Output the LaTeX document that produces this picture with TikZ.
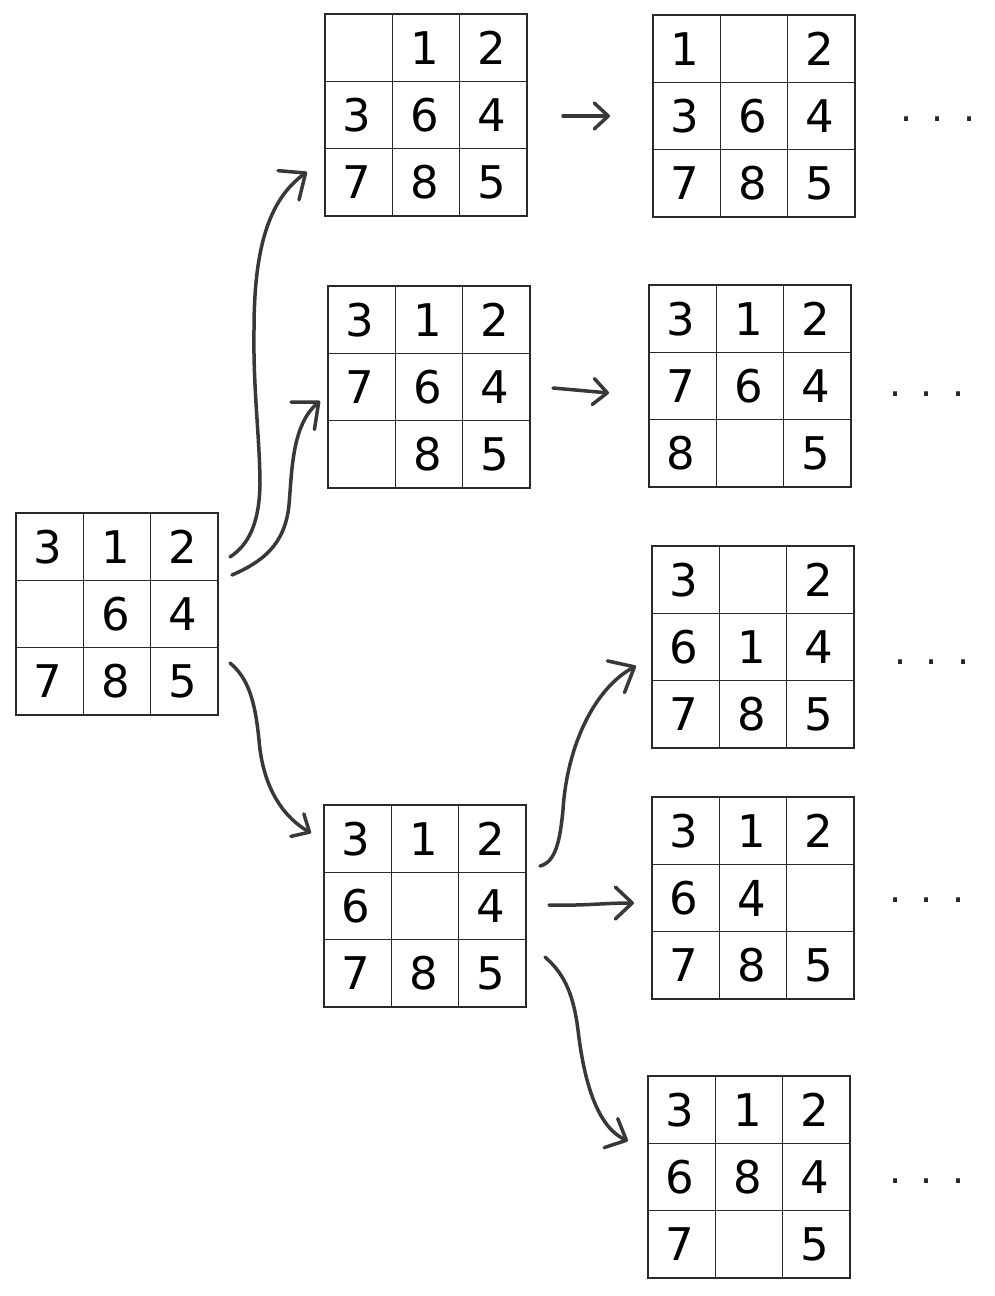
\documentclass[tikz,border=0pt]{standalone}
\usepackage{fontspec}
\setmainfont{DejaVu Sans}
\usetikzlibrary{arrows.meta}
\definecolor{gridline}{HTML}{2A2A2A}
\definecolor{arrowc}{HTML}{383838}
\tikzset{
  gridbox/.style={draw=gridline, line width=1.6pt, minimum size=202pt, inner sep=0pt,
    outer sep=0pt, anchor=north west},
  gridrule/.style={draw=gridline, line width=1.6pt},
  digit/.style={inner sep=0pt, font=\fontsize{45}{54}\selectfont, text=black},
  edgearrow/.style={draw=arrowc, line width=3.5pt, line cap=round, line join=round},
  bigtip/.style={-{Straight Barb[length=21pt,width=36pt,round]}},
  smalltip/.style={-{Straight Barb[length=14pt,width=26pt,round]}},
  midtip/.style={-{Straight Barb[length=17pt,width=32pt,round]}},
  dotsnode/.style={font=\fontsize{38}{40}\selectfont, text=black!85, inner sep=0pt}
}
\newcommand\puzzlegrid[4]{%
  \node[gridbox] (#1) at (#2,#3) {};
  \foreach \k in {1,2} {
    \draw[gridrule] (#2+\k*67.333,#3) -- (#2+\k*67.333,#3+202);
    \draw[gridrule] (#2,#3+\k*67.333) -- (#2+202,#3+\k*67.333);
  }
  \foreach \d [count=\i from 0] in {#4} {
    \pgfmathtruncatemacro\rr{int(\i/3)}%
    \pgfmathtruncatemacro\cc{\i-3*\rr}%
    \node[digit] (#1-\i) at (#2+33.667+\cc*67.333-1.5, #3+33.667+\rr*67.333) {\d};
  }
}
\begin{document}
\begin{tikzpicture}[x=1pt,y=-1pt]
\useasboundingbox (0,0) rectangle (995,1296);

% grids
\puzzlegrid{S}{16}{513}{3,1,2,,6,4,7,8,5}
\puzzlegrid{A}{325}{14}{,1,2,3,6,4,7,8,5}
\puzzlegrid{A2}{653}{15}{1,,2,3,6,4,7,8,5}
\puzzlegrid{B}{328}{286}{3,1,2,7,6,4,,8,5}
\puzzlegrid{B2}{649}{285}{3,1,2,7,6,4,8,,5}
\puzzlegrid{C1}{652}{546}{3,,2,6,1,4,7,8,5}
\puzzlegrid{C}{324}{805}{3,1,2,6,,4,7,8,5}
\puzzlegrid{C2}{652}{797}{3,1,2,6,{\scalebox{1}[1.1]{4}},,7,8,5}
\puzzlegrid{C3}{648}{1076}{3,1,2,6,8,4,7,,5}

% continuation dots
\node[dotsnode] (dA2) at (938,119) {.\hspace{19pt}.\hspace{19pt}.};
\node[dotsnode] (dB2) at (927,394) {.\hspace{19pt}.\hspace{19pt}.};
\node[dotsnode] (dC1) at (932,662) {.\hspace{19pt}.\hspace{19pt}.};
\node[dotsnode] (dC2) at (927,900) {.\hspace{19pt}.\hspace{19pt}.};
\node[dotsnode] (dC3) at (927,1181) {.\hspace{19pt}.\hspace{19pt}.};

% connector end points
\coordinate (sA) at (230,557);   \coordinate (tA) at (307,172);
\coordinate (sB) at (232,575);   \coordinate (tB) at (320,401);
\coordinate (sC) at (230,663);   \coordinate (tC) at (311,833);
\coordinate (sA2) at (563,116);  \coordinate (tA2) at (610,116);
\coordinate (sB2) at (553,388);  \coordinate (tB2) at (609,393);
\coordinate (sC1) at (540,866);  \coordinate (tC1) at (636,666);
\coordinate (sC2) at (549,905);  \coordinate (tC2) at (634,903);
\coordinate (sC3) at (545,957);  \coordinate (tC3) at (628,1141);

% connectors
\draw[edgearrow, bigtip] (sA) .. controls (248,545) and (259,525) .. (260,485)
  .. controls (260,440) and (253,390) .. (254,330)
  .. controls (254,250) and (268,200) .. (tA);
\draw[edgearrow, bigtip] (sB) .. controls (262,562) and (285,545) .. (289,505)
  .. controls (292,470) and (292,425) .. (tB);
\draw[edgearrow, smalltip] (sC) .. controls (248,678) and (255,700) .. (259,740)
  .. controls (263,790) and (285,818) .. (tC);
\draw[edgearrow, smalltip] (sA2) -- (tA2);
\draw[edgearrow, smalltip] (sB2) -- (tB2);
\draw[edgearrow, bigtip] (sC1) .. controls (556,862) and (560,840) .. (563,810)
  .. controls (567,745) and (595,688) .. (tC1);
\draw[edgearrow, midtip] (sC2) .. controls (580,906) and (605,903) .. (tC2);
\draw[edgearrow, midtip] (sC3) .. controls (562,972) and (573,990) .. (578,1030)
  .. controls (585,1090) and (600,1128) .. (tC3);
\end{tikzpicture}
\end{document}
